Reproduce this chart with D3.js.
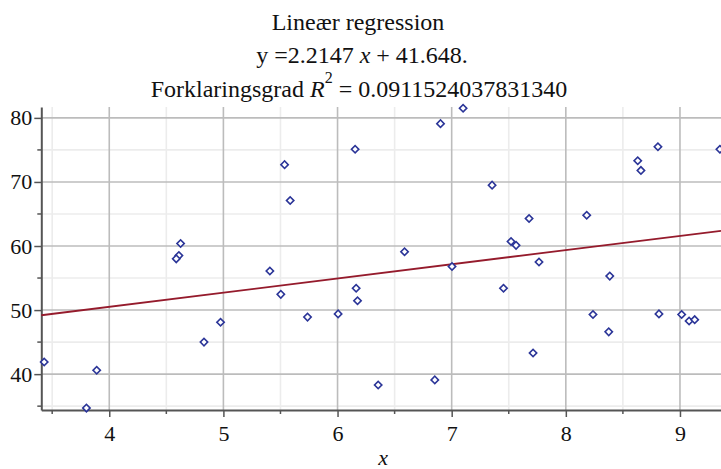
<!DOCTYPE html>
<html>
<head>
<meta charset="utf-8">
<script src="https://cdn.jsdelivr.net/npm/d3@7"></script>
<style>
  body { margin: 0; background: #fff; overflow: hidden; }
  svg { display: block; }
  .grid-major line { stroke: #bcbcbc; stroke-width: 1.6; }
  .grid-minor line { stroke: #ececec; stroke-width: 1.6; }
  .axis path, .axis line { stroke: #555; }
  .axis text { font-family: "Liberation Serif", serif; font-size: 22px; fill: #111; }
</style>
</head>
<body>
<svg id="chart" width="721" height="469"></svg>
<script>
"use strict";

const xs = [3.43, 3.80, 3.89, 4.83, 4.975, 4.625, 4.61, 4.587, 5.536, 5.585,
            6.154, 6.902, 7.10, 5.407, 6.587, 7.003, 6.163, 5.503, 5.737, 6.005,
            6.175, 6.356, 6.852, 7.354, 7.678, 7.52, 7.564, 7.765, 7.454, 8.183,
            8.385, 8.63, 8.658, 8.807, 9.35, 7.713, 8.238, 8.376, 8.816, 9.015,
            9.08, 9.129];
const ys = [41.9, 34.7, 40.6, 45.0, 48.1, 60.4, 58.5, 58.0, 72.7, 67.1,
            75.1, 79.1, 81.5, 56.1, 59.1, 56.8, 53.4, 52.45, 48.9, 49.4,
            51.45, 38.3, 39.1, 69.5, 64.3, 60.7, 60.1, 57.5, 53.4, 64.8,
            55.3, 73.3, 71.8, 75.5, 75.1, 43.3, 49.3, 46.6, 49.4, 49.3,
            48.3, 48.5];

const slope = 2.2147;
const intercept = 41.648;
const rSquared = "0.0911524037831340";

const xTicks = [4, 5, 6, 7, 8, 9];
const xMinor = [3.5, 4.5, 5.5, 6.5, 7.5, 8.5];
const yTicks = [40, 50, 60, 70, 80];
const yMinor = [35, 45, 55, 65, 75];

const xDomain = [3.4046, 9.3595];
const yDomain = [34.4, 81.7];

const serif = "Liberation Serif, serif";
const svg = d3.select("#chart");
const m = { left: 41.3, right: 721, top: 107, bottom: 410 };

const x = d3.scaleLinear().domain(xDomain).range([m.left, m.right]);
const y = d3.scaleLinear().domain(yDomain).range([m.bottom, m.top]);

// grid: minor first so major lines sit on top
const minor = svg.append("g").attr("class", "grid-minor");
minor.selectAll("line.v").data(xMinor).enter().append("line").attr("class", "v")
  .attr("x1", d => x(d)).attr("x2", d => x(d)).attr("y1", m.top).attr("y2", m.bottom);
minor.selectAll("line.h").data(yMinor).enter().append("line").attr("class", "h")
  .attr("x1", m.left).attr("x2", m.right).attr("y1", d => y(d)).attr("y2", d => y(d));

const major = svg.append("g").attr("class", "grid-major");
major.selectAll("line.v").data(xTicks).enter().append("line").attr("class", "v")
  .attr("x1", d => x(d)).attr("x2", d => x(d)).attr("y1", m.top).attr("y2", m.bottom);
major.selectAll("line.h").data(yTicks).enter().append("line").attr("class", "h")
  .attr("x1", m.left).attr("x2", m.right).attr("y1", d => y(d)).attr("y2", d => y(d));

// axes
const xAxis = svg.append("g").attr("class", "axis")
  .attr("transform", `translate(0,${m.bottom})`)
  .call(d3.axisBottom(x).tickValues(xTicks).tickSize(7).tickSizeOuter(0).tickPadding(8).tickFormat(d3.format("d")));
xAxis.select(".domain").attr("stroke-width", 2);
xAxis.selectAll(".tick line").attr("stroke-width", 1.5);
xAxis.selectAll(".minor").data(xMinor).enter().append("line")
  .attr("class", "minor").attr("stroke", "#555").attr("stroke-width", 1.5)
  .attr("x1", d => x(d)).attr("x2", d => x(d)).attr("y1", 0).attr("y2", 4);

const yAxis = svg.append("g").attr("class", "axis")
  .attr("transform", `translate(${m.left},0)`)
  .call(d3.axisLeft(y).tickValues(yTicks).tickSize(7).tickSizeOuter(0).tickPadding(2).tickFormat(d3.format("d")));
yAxis.select(".domain").attr("stroke-width", 2);
yAxis.selectAll(".tick line").attr("stroke-width", 1.5);
yAxis.selectAll(".minor").data(yMinor).enter().append("line")
  .attr("class", "minor").attr("stroke", "#555").attr("stroke-width", 1.5)
  .attr("x1", -4).attr("x2", 0).attr("y1", d => y(d)).attr("y2", d => y(d));

// regression line
const line = d3.line().x(d => x(d)).y(d => y(slope * d + intercept));
svg.append("path")
  .datum(xDomain)
  .attr("d", line)
  .attr("fill", "none")
  .attr("stroke", "#951b2c")
  .attr("stroke-width", 1.8);

// data points as diamonds
const diamond = d3.symbol().type(d3.symbolSquare).size(27);
svg.append("g").selectAll("path").data(xs).enter().append("path")
  .attr("d", diamond)
  .attr("transform", (d, i) => `translate(${x(d)},${y(ys[i])}) rotate(45)`)
  .attr("fill", "#fff")
  .attr("stroke", "#2b3598")
  .attr("stroke-width", 1.6);

// title
const titleSize = 24;
svg.append("text")
  .attr("font-family", serif)
  .attr("text-anchor", "middle").attr("font-size", titleSize).attr("fill", "#111")
  .attr("x", 358).attr("y", 30)
  .text("Lineær regression");

const t2 = svg.append("text")
  .attr("font-family", serif)
  .attr("text-anchor", "middle").attr("font-size", titleSize).attr("fill", "#111")
  .attr("x", 362).attr("y", 63);
t2.append("tspan").text(`y =${slope} `);
t2.append("tspan").attr("font-style", "italic").text("x");
t2.append("tspan").text(` + ${intercept}.`);

const t3 = svg.append("text")
  .attr("font-family", serif)
  .attr("text-anchor", "middle").attr("font-size", titleSize).attr("fill", "#111")
  .attr("x", 359).attr("y", 97);
t3.append("tspan").text("Forklaringsgrad ");
t3.append("tspan").attr("font-style", "italic").text("R");
t3.append("tspan").attr("font-size", 16).attr("dy", -14).text("2");
t3.append("tspan").attr("dy", 14).text(` = ${rSquared}`);

// x axis label
svg.append("text")
  .attr("font-family", serif)
  .attr("x", x(6.4)).attr("y", 465)
  .attr("text-anchor", "middle")
  .attr("font-size", 22)
  .attr("font-style", "italic")
  .attr("fill", "#111")
  .text("x");
</script>
</body>
</html>
